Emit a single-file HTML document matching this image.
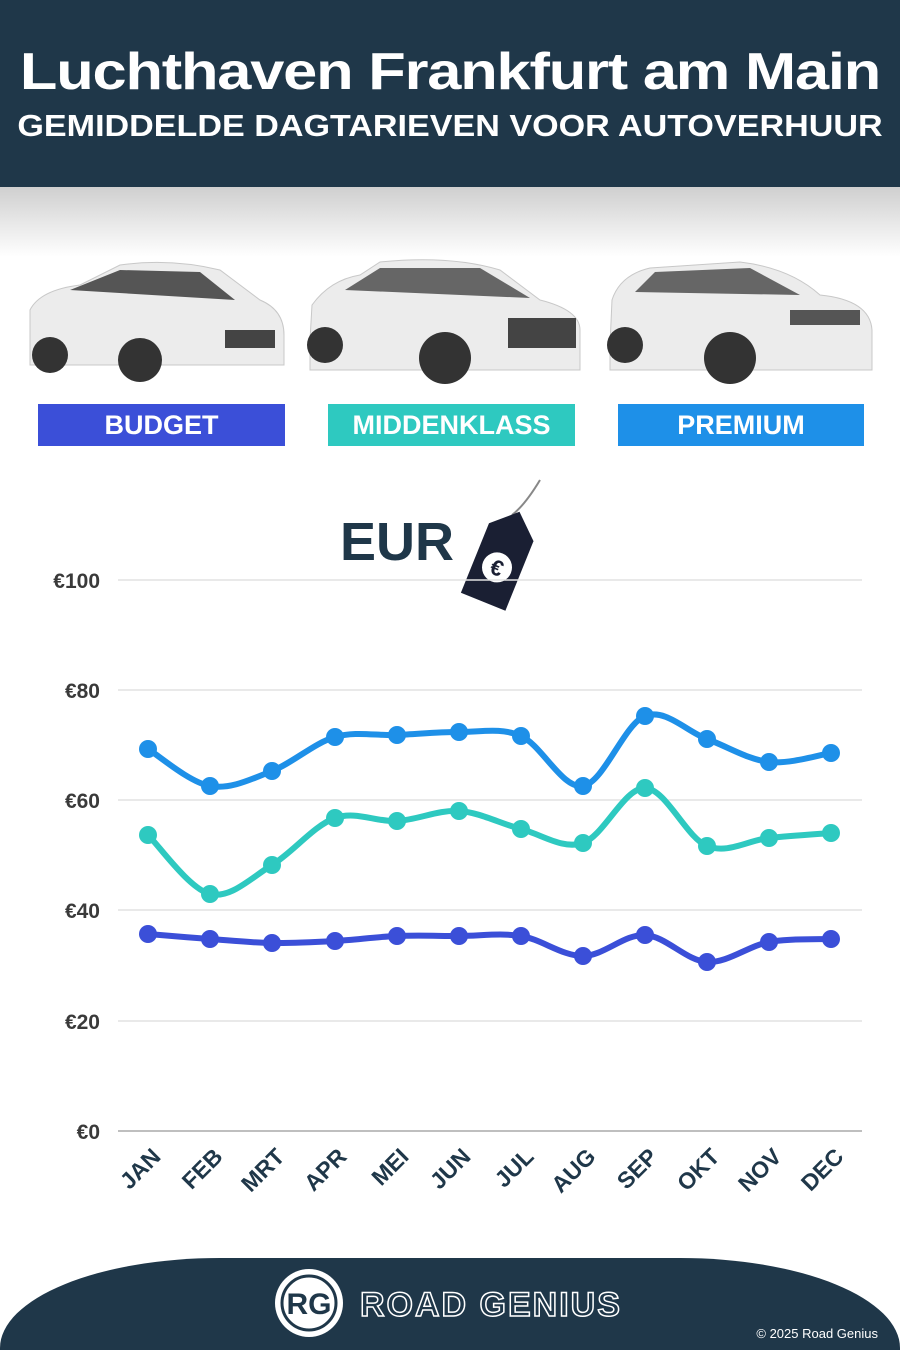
<!DOCTYPE html>
<html><head><meta charset="utf-8"><style>
body{margin:0;width:900px;height:1350px;background:#fff;font-family:"Liberation Sans",sans-serif;position:relative;overflow:hidden}
.hdr{position:absolute;left:0;top:0;width:900px;height:187px;background:#1f3749;color:#fff;text-align:center}
.t1{position:absolute;top:42px;width:100%;font-size:52px;font-weight:bold;transform:scaleX(1.18);letter-spacing:-1px}
.t2{position:absolute;top:108px;width:100%;font-size:31px;font-weight:bold;transform:scaleX(1.1)}
.shade{position:absolute;top:187px;left:0;width:900px;height:70px;background:linear-gradient(#cfcfcf,#fff)}
.btn{position:absolute;top:404px;height:42px;color:#fff;font-weight:bold;font-size:27px;text-align:center;line-height:42px}
</style></head><body>
<div class="hdr"><div class="t1">Luchthaven Frankfurt am Main</div><div class="t2">GEMIDDELDE DAGTARIEVEN VOOR AUTOVERHUUR</div></div>
<div class="shade"></div>
<svg width="900" height="400" style="position:absolute;left:0;top:0">
<path d="M30 350 L30 310 Q40 290 80 285 L120 265 Q170 258 220 270 L260 300 Q284 310 284 335 L284 365 L30 365 Z" fill="#ececec" stroke="#c8c8c8"/>
<path d="M70 290 L120 270 L200 272 L235 300 Z" fill="#555"/>
<circle cx="50" cy="355" r="18" fill="#333"/><circle cx="140" cy="360" r="22" fill="#333"/>
<rect x="225" y="330" width="50" height="18" fill="#444"/>
<path d="M310 340 L312 305 Q330 280 360 275 L380 262 Q450 255 500 270 L540 300 Q580 310 580 330 L580 370 L310 370 Z" fill="#ececec" stroke="#c8c8c8"/>
<path d="M345 290 L380 268 L480 268 L530 298 Z" fill="#666"/>
<rect x="508" y="318" width="68" height="30" fill="#444"/>
<circle cx="325" cy="345" r="18" fill="#333"/><circle cx="445" cy="358" r="26" fill="#333"/>
<path d="M610 345 L612 300 Q620 275 650 268 L740 262 Q790 268 820 295 Q870 300 872 330 L872 370 L610 370 Z" fill="#ececec" stroke="#c8c8c8"/>
<path d="M635 292 L655 272 L750 268 L800 295 Z" fill="#666"/>
<rect x="790" y="310" width="70" height="15" fill="#555"/>
<circle cx="625" cy="345" r="18" fill="#333"/><circle cx="730" cy="358" r="26" fill="#333"/>
</svg>
<div class="btn" style="left:38px;width:247px;background:#3b4fd8">BUDGET</div>
<div class="btn" style="left:328px;width:247px;background:#2ec9c0">MIDDENKLASS</div>
<div class="btn" style="left:618px;width:246px;background:#1e90e8">PREMIUM</div>
<svg id="ch" width="900" height="1350" style="position:absolute;left:0;top:0">
<text x="340" y="560" font-size="54" font-weight="bold" fill="#1f3749" font-family="Liberation Sans">EUR</text>
<path d="M540 480 Q525 505 512 515" stroke="#888" stroke-width="2" fill="none"/>
<g transform="rotate(22 500 560)"><path d="M500 508 L524 530 L524 605 L476 605 L476 530 Z" fill="#1a1f33"/><circle cx="500" cy="568" r="15" fill="#fff"/><text x="500" y="576" font-size="22" text-anchor="middle" font-weight="bold" fill="#1a1f33">€</text></g>
<g stroke="#e2e2e2" stroke-width="1.5">
<line x1="118" y1="580" x2="862" y2="580"/><line x1="118" y1="690" x2="862" y2="690"/><line x1="118" y1="800" x2="862" y2="800"/><line x1="118" y1="910" x2="862" y2="910"/><line x1="118" y1="1021" x2="862" y2="1021"/></g>
<line x1="118" y1="1131" x2="862" y2="1131" stroke="#aaa" stroke-width="1.5"/>
<g font-size="21" font-weight="bold" fill="#3a3a3a" text-anchor="end">
<text x="100" y="588">€100</text><text x="100" y="698">€80</text><text x="100" y="808">€60</text><text x="100" y="918">€40</text><text x="100" y="1029">€20</text><text x="100" y="1139">€0</text></g>
<g font-size="23" font-weight="bold" fill="#1f3749" text-anchor="end">
<text transform="translate(162,1158) rotate(-45)">JAN</text><text transform="translate(224,1158) rotate(-45)">FEB</text><text transform="translate(286,1158) rotate(-45)">MRT</text><text transform="translate(348,1158) rotate(-45)">APR</text><text transform="translate(410,1158) rotate(-45)">MEI</text><text transform="translate(472,1158) rotate(-45)">JUN</text><text transform="translate(535,1158) rotate(-45)">JUL</text><text transform="translate(597,1158) rotate(-45)">AUG</text><text transform="translate(659,1158) rotate(-45)">SEP</text><text transform="translate(721,1158) rotate(-45)">OKT</text><text transform="translate(783,1158) rotate(-45)">NOV</text><text transform="translate(845,1158) rotate(-45)">DEC</text></g>
</svg>
<script>
var xs=[148,210,272,335,397,459,521,583,645,707,769,831];
var S=[["#1e90e8",[749,786,771,737,735,732,736,786,716,739,762,753]],["#2ec9c0",[835,894,865,818,821,811,829,843,788,846,838,833]],["#3b4fd8",[934,939,943,941,936,936,936,956,935,962,942,939]]];
var svg=document.getElementById('ch'),ns="http://www.w3.org/2000/svg";
S.forEach(function(s){var y=s[1],d="M"+xs[0]+" "+y[0];
for(var i=0;i<11;i++){var p0=i?i-1:0,p3=i<10?i+2:11;
var c1x=xs[i]+(xs[i+1]-xs[p0])/6,c1y=y[i]+(y[i+1]-y[p0])/6,c2x=xs[i+1]-(xs[p3]-xs[i])/6,c2y=y[i+1]-(y[p3]-y[i])/6;
d+=" C"+c1x+" "+c1y+" "+c2x+" "+c2y+" "+xs[i+1]+" "+y[i+1];}
var p=document.createElementNS(ns,"path");p.setAttribute("d",d);p.setAttribute("fill","none");p.setAttribute("stroke",s[0]);p.setAttribute("stroke-width","6");svg.appendChild(p);
for(var j=0;j<12;j++){var c=document.createElementNS(ns,"circle");c.setAttribute("cx",xs[j]);c.setAttribute("cy",y[j]);c.setAttribute("r","9");c.setAttribute("fill",s[0]);svg.appendChild(c);}});
</script>
<div style="position:absolute;left:0;top:1258px;width:900px;height:92px;background:#1f3749;border-radius:220px 220px 0 0/90px 90px 0 0"></div>
<svg width="900" height="1350" style="position:absolute;left:0;top:0">
<circle cx="309" cy="1303" r="34" fill="#fff"/><circle cx="309" cy="1303" r="27" fill="none" stroke="#1f3749" stroke-width="3"/>
<text x="309" y="1314" font-size="30" font-weight="bold" fill="#1f3749" text-anchor="middle">RG</text>
<text x="360" y="1316" font-size="34" font-weight="bold" fill="none" stroke="#fff" stroke-width="1.5" letter-spacing="2">ROAD GENIUS</text>
<text x="878" y="1338" font-size="13" fill="#fff" text-anchor="end">© 2025 Road Genius</text>
</svg>
</body></html>
